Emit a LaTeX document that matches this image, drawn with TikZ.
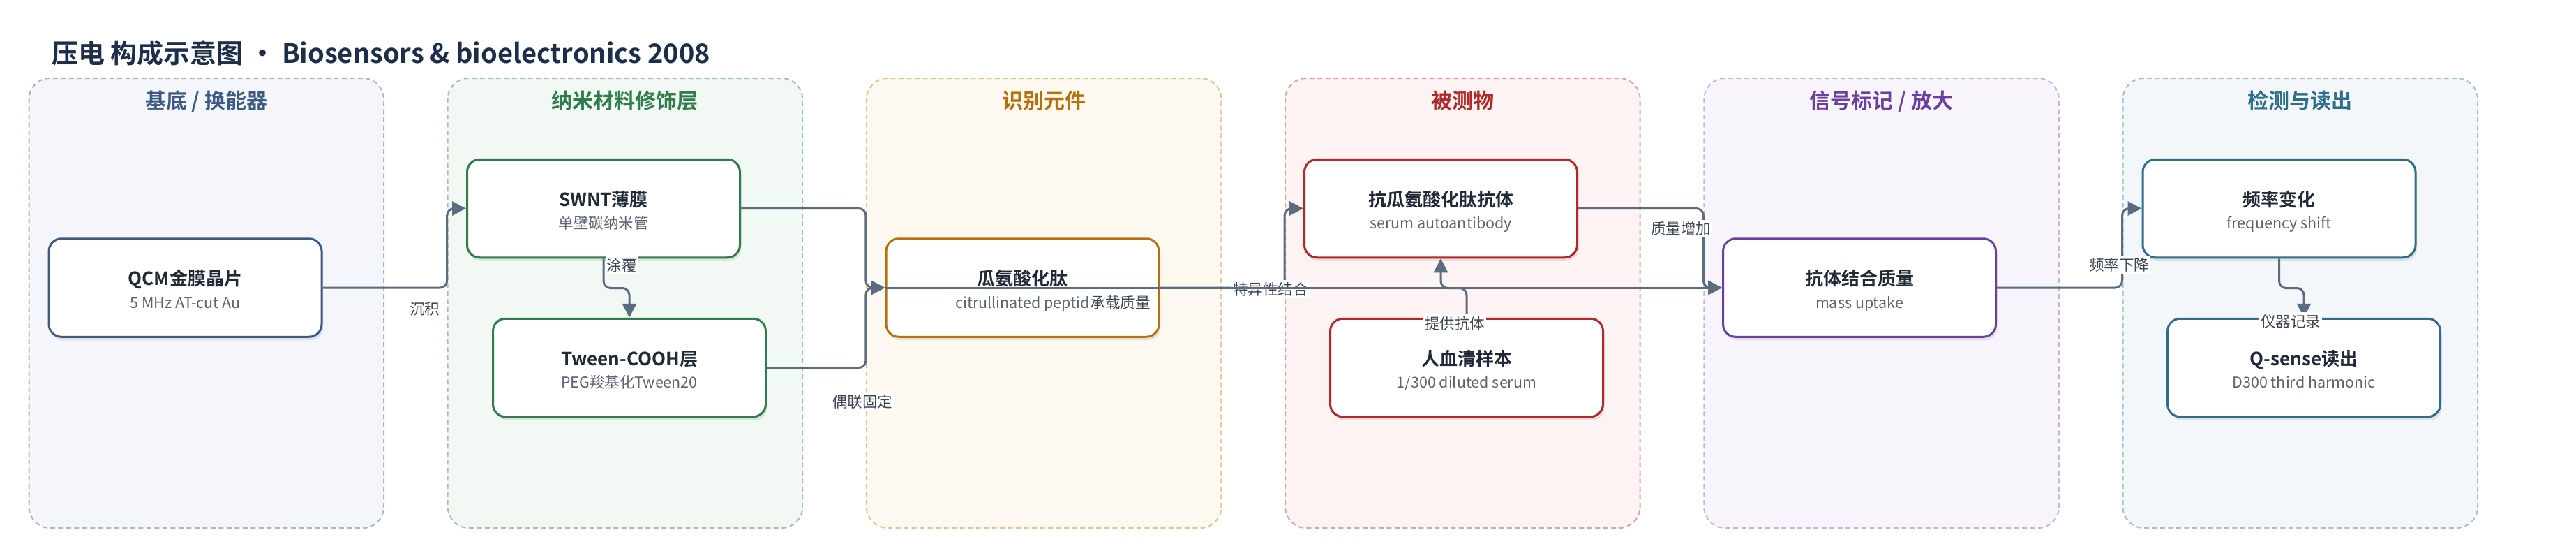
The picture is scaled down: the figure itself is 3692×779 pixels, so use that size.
\documentclass[tikz,border=0pt]{standalone}
\usepackage{fontspec}
\setmainfont{Noto Sans CJK SC}[BoldFont={Noto Sans CJK SC Bold}]
\usetikzlibrary{calc}
\usetikzlibrary{arrows.meta}
\usetikzlibrary{shadows}

\definecolor{baseMain}{HTML}{3C5A82}
\definecolor{baseDash}{HTML}{A9B6C9}
\definecolor{baseFill}{HTML}{F4F6FB}
\definecolor{nanoMain}{HTML}{2E7D4A}
\definecolor{nanoDash}{HTML}{9CC8A8}
\definecolor{nanoFill}{HTML}{F2F8F4}
\definecolor{recogMain}{HTML}{B8700C}
\definecolor{recogDash}{HTML}{E8C48C}
\definecolor{recogFill}{HTML}{FDF8F0}
\definecolor{targetMain}{HTML}{B32727}
\definecolor{targetDash}{HTML}{E6A0A0}
\definecolor{targetFill}{HTML}{FDF3F3}
\definecolor{signalMain}{HTML}{6B3FA0}
\definecolor{signalDash}{HTML}{C6B4E2}
\definecolor{signalFill}{HTML}{F7F4FB}
\definecolor{readMain}{HTML}{2E6E8A}
\definecolor{readDash}{HTML}{A4C2CE}
\definecolor{readFill}{HTML}{F3F7F9}
\definecolor{ink}{HTML}{1F2937}
\definecolor{subink}{HTML}{5B6474}
\definecolor{labink}{HTML}{3D4654}
\definecolor{flowc}{HTML}{5B6B80}
\definecolor{headc}{HTML}{1C2E4A}

\tikzset{
  panel/.style={draw=#1Dash, fill=#1Fill, line width=2pt, dash pattern=on 7pt off 4.5pt,
    rounded corners=30pt, minimum width=508.5pt, minimum height=644pt},
  ptitle/.style={text=#1Main, font=\bfseries\fontsize{30}{34}\selectfont,
    text height=26.4pt, text depth=3.6pt, inner sep=0pt},
  box/.style={draw=#1Main, fill=white, line width=3pt, rounded corners=18pt,
    minimum width=391pt, minimum height=140.5pt,
    drop shadow={opacity=.18, shadow xshift=2pt, shadow yshift=-5pt}},
  ttl/.style={text=ink, font=\bfseries\fontsize{26}{30}\selectfont,
    text height=22.9pt, text depth=3.1pt, inner sep=0pt},
  sub/.style={text=subink, font=\fontsize{21.5}{25}\selectfont,
    text height=18.9pt, text depth=2.6pt, inner sep=0pt},
  elabel/.style={fill=white, text=labink, font=\fontsize{21.5}{25}\selectfont,
    text height=18.9pt, text depth=2.6pt, inner sep=2pt},
  flow/.style={draw=flowc, line width=3pt, rounded corners=10pt,
    -{Triangle[length=20pt,width=20pt]}}
}

% box with a bold title and a grey subtitle
\newcommand{\qbox}[6]{%
  \node[box=#4] (#1) at (#2,#3) {};
  \node[ttl] (#1-t) at ($(#1)+(0,-13)$) {#5};
  \node[sub] (#1-s) at ($(#1)+(0,21)$) {#6};
}

\begin{document}
\begin{tikzpicture}[x=1pt,y=-1pt]
\useasboundingbox (0,0) rectangle (3692,779);

\node[anchor=west, inner sep=0pt, text=headc, font=\bfseries\fontsize{38}{42}\selectfont,
  text height=33.4pt, text depth=4.6pt] (title) at (74,76)
  {压电 构成示意图 · Biosensors \& bioelectronics 2008};

% lanes
\foreach \i/\grp/\txt in {1/base/{基底 / 换能器}, 2/nano/{纳米材料修饰层}, 3/recog/{识别元件},
    4/target/{被测物}, 5/signal/{信号标记 / 放大}, 6/read/{检测与读出}} {
  \node[panel=\grp] (p\i) at ({295.75+600.2*(\i-1)},434) {};
  \node[ptitle=\grp] (p\i-t) at ($(p\i.north)+(0,33.5)$) {\txt};
}

% boxes
\qbox{qcm}{265.5}{412}{base}{QCM金膜晶片}{5 MHz AT-cut Au}
\qbox{swnt}{865}{298.5}{nano}{SWNT薄膜}{单壁碳纳米管}
\qbox{tween}{902}{526.5}{nano}{Tween-COOH层}{PEG羧基化Tween20}
\qbox{pep}{1465.5}{412}{recog}{瓜氨酸化肽}{citrullinated peptid}
\qbox{ab}{2065}{298.5}{target}{抗瓜氨酸化肽抗体}{serum autoantibody}
\qbox{serum}{2102}{526.5}{target}{人血清样本}{1/300 diluted serum}
\qbox{mass}{2665}{412}{signal}{抗体结合质量}{mass uptake}
\qbox{freq}{3266.5}{298.5}{read}{频率变化}{frequency shift}
\qbox{qs}{3302}{526.5}{read}{Q-sense读出}{D300 third harmonic}

% connectors
\draw[flow] (qcm.east) -| (p2.west |- swnt.west) -- (swnt.west);
\node[elabel] (l1) at (608.5,442) {沉积};

\draw[flow] (swnt.south) |- ($(swnt.south)!.5!(tween.north)$) -| (tween.north);
\node[elabel] (l2) at (891,380) {涂覆};

\draw[flow] (swnt.east) -| (p3.west |- pep.west) -- (pep.west);
\draw[flow] (tween.east) -| (p3.west |- pep.west) -- (pep.west);
\node[elabel] (l3) at (1236,575) {偶联固定};

\draw[flow] (pep.east) -| (p4.west |- ab.west) -- (ab.west);
\node[elabel] (l4) at (1821,414) {特异性结合};

\draw[flow] (pep.west) -- (mass.west);
\node[elabel, anchor=west] (l5) at ($(pep-s.east)+(-1.5,0)$) {承载质量};

\draw[flow] (serum.north) |- ($(serum.north)!.5!(ab.south)$) -| (ab.south);
\node[elabel] (l6) at (2085,463) {提供抗体};

\draw[flow] (ab.east) -| (p5.west |- mass.west) -- (mass.west);
\node[elabel] (l7) at (2409,327.5) {质量增加};

\draw[flow] (mass.east) -| (p6.west |- freq.west) -- (freq.west);
\node[elabel] (l8) at (3037,379) {频率下降};

\draw[flow] (freq.south) |- ($(freq.south)!.5!(qs.north)$) -| (qs.north);
\node[elabel] (l9) at (3283,460) {仪器记录};

\end{tikzpicture}
\end{document}
